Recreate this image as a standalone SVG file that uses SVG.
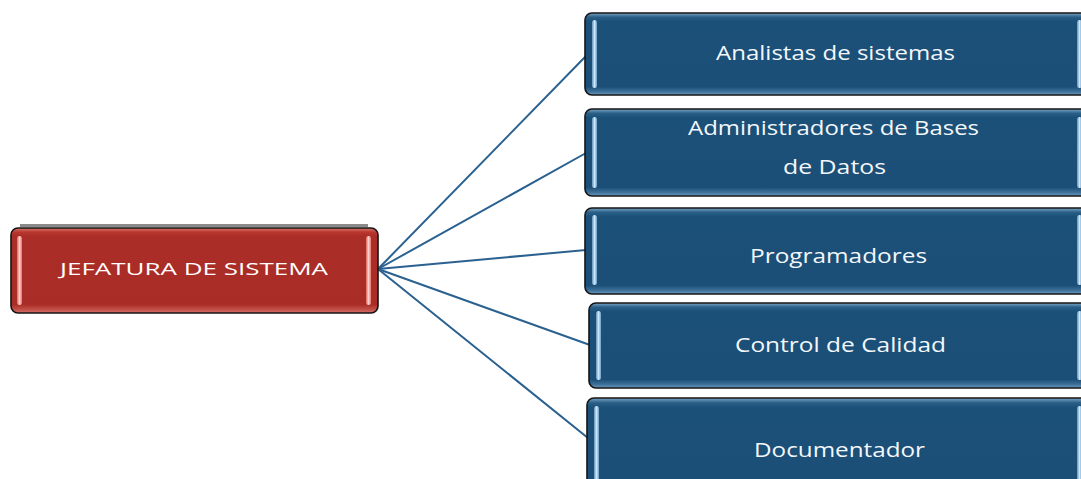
<svg xmlns="http://www.w3.org/2000/svg" width="1081" height="479" viewBox="0 0 1081 479">
  <defs>
    <linearGradient id="blueFill" x1="0" y1="0" x2="0" y2="1">
      <stop offset="0" stop-color="#7aa6c8"/>
      <stop offset="0.05" stop-color="#2a5f88"/>
      <stop offset="0.1" stop-color="#1b5079"/>
      <stop offset="0.9" stop-color="#1b4f78"/>
      <stop offset="0.96" stop-color="#3f729b"/>
      <stop offset="1" stop-color="#6f9cc0"/>
    </linearGradient>
    <linearGradient id="redFill" x1="0" y1="0" x2="0" y2="1">
      <stop offset="0" stop-color="#d8766e"/>
      <stop offset="0.05" stop-color="#b8372f"/>
      <stop offset="0.1" stop-color="#ab2d27"/>
      <stop offset="0.9" stop-color="#aa2c26"/>
      <stop offset="0.96" stop-color="#c25048"/>
      <stop offset="1" stop-color="#d7706a"/>
    </linearGradient>
    <linearGradient id="blueBar" x1="0" y1="0" x2="1" y2="0">
      <stop offset="0" stop-color="#5d93be"/>
      <stop offset="0.5" stop-color="#cfe6f7"/>
      <stop offset="1" stop-color="#6a9fc8"/>
    </linearGradient>
    <linearGradient id="redBar" x1="0" y1="0" x2="1" y2="0">
      <stop offset="0" stop-color="#e0675e"/>
      <stop offset="0.5" stop-color="#fbd0cb"/>
      <stop offset="1" stop-color="#e7766d"/>
    </linearGradient>
  </defs>
  <style>
    .box { stroke: #141414; stroke-width: 1.6; }
    .blue { fill: url(#blueFill); }
    .red { fill: url(#redFill); }
    .bbar { fill: url(#blueBar); }
    .rbar { fill: url(#redBar); }
    .lbl { font-family: "Open Sans", "Liberation Sans", sans-serif; font-size: 20px; fill: #f4f7fa; text-anchor: middle; }
    .root { font-family: "Open Sans", "Liberation Sans", sans-serif; font-size: 17px; fill: #ffffff; text-anchor: middle; }
    .edge { stroke: #2a6190; stroke-width: 2; fill: none; stroke-linecap: round; }
  </style>

  <rect width="1081" height="479" fill="#ffffff"/>

  <!-- connectors fanning out from the head office -->
  <g id="connectors">
    <line class="edge" x1="378" y1="269" x2="586" y2="56"/>
    <line class="edge" x1="378" y1="269" x2="586" y2="153"/>
    <line class="edge" x1="378" y1="269" x2="586" y2="250"/>
    <line class="edge" x1="378" y1="269" x2="590" y2="345"/>
    <line class="edge" x1="378" y1="269" x2="588" y2="438"/>
  </g>

  <!-- head office -->
  <g id="jefatura">
    <rect x="20" y="224" width="348" height="3" fill="#8a8a8a"/>
    <rect class="box red" x="11" y="228" width="367" height="85" rx="7"/>
    <rect class="rbar" x="17" y="236" width="5" height="69" rx="2.5"/>
    <rect class="rbar" x="366" y="236" width="5" height="69" rx="2.5"/>
    <text class="root" x="194" y="275" textLength="268" lengthAdjust="spacingAndGlyphs">JEFATURA  DE SISTEMA</text>
  </g>

  <g id="analistas">
    <rect class="box blue" x="585" y="13" width="505" height="82" rx="7"/>
    <rect class="bbar" x="592" y="20" width="5" height="68" rx="2.5"/>
    <rect class="bbar" x="1077" y="20" width="5" height="68" rx="2.5"/>
    <text class="lbl" x="835.5" y="60" textLength="239" lengthAdjust="spacingAndGlyphs">Analistas de sistemas</text>
  </g>

  <g id="administradores">
    <rect class="box blue" x="585" y="109" width="505" height="87" rx="7"/>
    <rect class="bbar" x="592" y="117" width="5" height="71" rx="2.5"/>
    <rect class="bbar" x="1077" y="117" width="5" height="71" rx="2.5"/>
    <text class="lbl" x="833.5" y="135" textLength="291" lengthAdjust="spacingAndGlyphs">Administradores de Bases</text>
    <text class="lbl" x="834.5" y="174" textLength="103" lengthAdjust="spacingAndGlyphs">de  Datos</text>
  </g>

  <g id="programadores">
    <rect class="box blue" x="585" y="208" width="505" height="86" rx="7"/>
    <rect class="bbar" x="592" y="215" width="5" height="70" rx="2.5"/>
    <rect class="bbar" x="1077" y="215" width="5" height="70" rx="2.5"/>
    <text class="lbl" x="838.5" y="263" textLength="177" lengthAdjust="spacingAndGlyphs">Programadores</text>
  </g>

  <g id="control">
    <rect class="box blue" x="589" y="303" width="501" height="85" rx="7"/>
    <rect class="bbar" x="596" y="311" width="5" height="69" rx="2.5"/>
    <rect class="bbar" x="1077" y="311" width="5" height="69" rx="2.5"/>
    <text class="lbl" x="840.5" y="352" textLength="211" lengthAdjust="spacingAndGlyphs">Control  de Calidad</text>
  </g>

  <g id="documentador">
    <rect class="box blue" x="587" y="398" width="503" height="95" rx="7"/>
    <rect class="bbar" x="594" y="406" width="5" height="80" rx="2.5"/>
    <rect class="bbar" x="1077" y="406" width="5" height="80" rx="2.5"/>
    <text class="lbl" x="839.5" y="457" textLength="171" lengthAdjust="spacingAndGlyphs">Documentador</text>
  </g>
</svg>
